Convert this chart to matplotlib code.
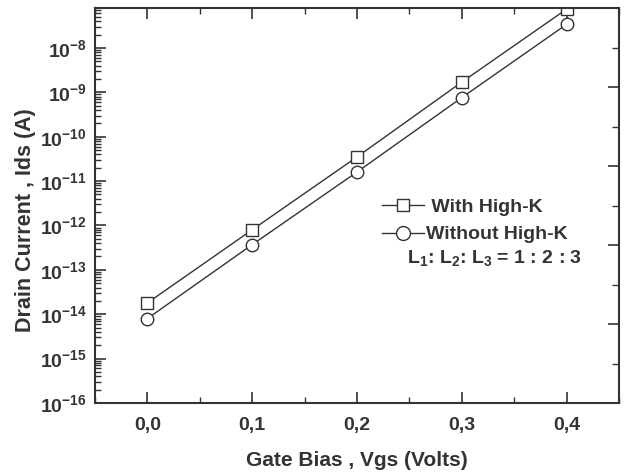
import math
import matplotlib
matplotlib.use("Agg")
import matplotlib.pyplot as plt
from matplotlib.ticker import LogLocator, FixedLocator, FuncFormatter, NullFormatter
from matplotlib.lines import Line2D

plt.rcParams['font.family'] = ['Liberation Sans', 'DejaVu Sans']
plt.rcParams['font.weight'] = 'bold'
plt.rcParams['mathtext.fontset'] = 'custom'
plt.rcParams['mathtext.rm'] = 'Liberation Sans:bold'
plt.rcParams['mathtext.bf'] = 'Liberation Sans:bold'
plt.rcParams['mathtext.it'] = 'Liberation Sans:bold'

vgs = [0.0, 0.1, 0.2, 0.3, 0.4]
with_highk = [1.8e-14, 8e-13, 3.5e-11, 1.7e-9, 7.5e-8]
without_highk = [8e-15, 3.7e-13, 1.6e-11, 7.6e-10, 3.4e-8]
xtick_vals = [0.0, 0.1, 0.2, 0.3, 0.4]
xtick_labels = ['0,0', '0,1', '0,2', '0,3', '0,4']

col = '#333333'
fig = plt.figure(figsize=(6.27, 4.75), dpi=100)
ax = fig.add_axes([95/627, 1 - 403/475, (619-95)/627, (403-8)/475])

ax.plot(vgs, with_highk, marker='s', ms=8.5, mfc='white', mec=col, mew=1, color=col, lw=1)
ax.plot(vgs, without_highk, marker='o', ms=9, mfc='white', mec=col, mew=1, color=col, lw=1)

ax.set_yscale('log')
ax.set_xlim(-0.05, 0.45)
ax.set_ylim(1e-16, 10**-7.1)
ax.xaxis.set_major_locator(FixedLocator(xtick_vals))
ax.xaxis.set_major_formatter(FuncFormatter(lambda v, p: xtick_labels[p] if p is not None and p < len(xtick_labels) else ''))
ax.xaxis.set_minor_locator(FixedLocator([-0.05, 0.05, 0.15, 0.25, 0.35, 0.45]))
ax.yaxis.set_major_locator(LogLocator(base=10, numticks=20))
ax.yaxis.set_major_formatter(FuncFormatter(lambda v, p: r'$\mathbf{10^{%d}}$' % round(math.log10(v))))
ax.yaxis.set_minor_locator(LogLocator(base=10, subs=[2, 3, 4, 5, 6, 7, 8, 9], numticks=20))
ax.yaxis.set_minor_formatter(NullFormatter())
ax.tick_params(which='both', direction='in', top=True, right=False, colors=col, labelcolor=col)
ax.tick_params(which='major', length=8, width=1.2, labelsize=14, pad=6)
ax.tick_params(which='minor', length=4, width=1)
ax.tick_params(axis='x', which='major', pad=10)
for s in ax.spines.values():
    s.set_color(col)
    s.set_linewidth(1.5)

# right-side linear axis ticks (no labels)
ax2 = ax.twinx()
ax2.set_ylim(0, 10)
ax2.yaxis.set_major_locator(FixedLocator([2, 4, 6, 8]))
ax2.yaxis.set_minor_locator(FixedLocator([1, 3, 5, 7, 9]))
ax2.yaxis.set_major_formatter(NullFormatter())
ax2.tick_params(which='both', direction='in', colors=col)
ax2.tick_params(which='major', length=8, width=1.2)
ax2.tick_params(which='minor', length=5, width=1)
for s in ax2.spines.values():
    s.set_visible(False)

ax.set_xlabel('Gate Bias , Vgs (Volts)', fontsize=15, fontweight='bold', color=col, va='center')
ax.xaxis.set_label_coords(0.5, 1 - (461 - 8) / 395)
ax.set_ylabel('Drain Current , Ids (A)', fontsize=15.5, fontweight='bold', color=col, va='center')
ax.yaxis.set_label_coords((26 - 95) / 524, 1 - (220 - 8) / 395)

h1 = Line2D([], [], marker='s', ms=8, mfc='white', mec=col, color=col, lw=1)
h2 = Line2D([], [], marker='o', ms=10, mfc='white', mec=col, color=col, lw=1)
leg = ax.legend(handles=[h1, h2], labels=[' With High-K', 'Without High-K'],
                loc='center left', bbox_to_anchor=(0.548, 1 - (221 - 8) / 395), frameon=False,
                handlelength=2.15, handletextpad=0.1, labelspacing=0.5, borderaxespad=0, borderpad=0,
                prop={'weight': 'bold', 'size': 14})
for t in leg.get_texts():
    t.set_color(col)
ax.text((407 - 95) / 524, 1 - (258 - 8) / 395, r'L$_1$: L$_2$: L$_3$ = 1 : 2 : 3', transform=ax.transAxes,
        fontsize=14, fontweight='bold', color=col, va='center', ha='left')

fig.savefig('out.png', dpi=100)
